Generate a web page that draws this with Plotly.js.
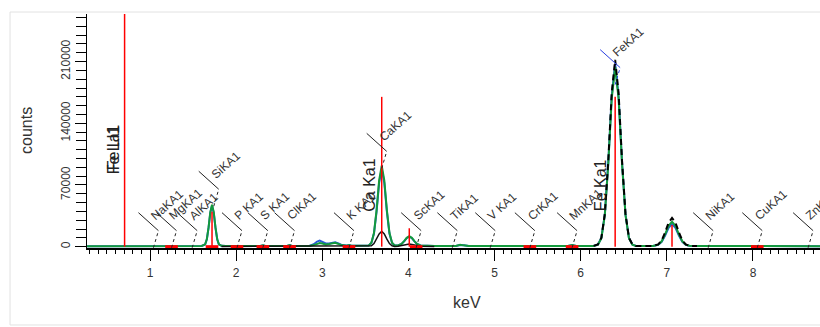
<!DOCTYPE html>
<html><head><meta charset="utf-8">
<script src="https://cdn.plot.ly/plotly-3.0.1.min.js"></script>
<style>html,body{margin:0;padding:0;background:#fff}#chart{width:820px;height:327px}</style>
</head><body><div id="chart"></div>
<script>
// ---- data ----
const energy = [0.27,0.60,0.95,1.04,1.10,1.22,1.25,1.28,1.45,1.52,1.60,1.64,1.66,1.68,1.70,1.72,1.74,1.76,1.78,1.80,
  1.83,1.88,1.98,2.01,2.04,2.28,2.31,2.34,2.59,2.62,2.65,2.85,2.90,2.94,2.97,3.00,3.04,3.08,3.12,3.15,
  3.18,3.22,3.28,3.31,3.34,3.50,3.54,3.57,3.60,3.63,3.66,3.69,3.72,3.75,3.78,3.81,3.84,3.88,3.92,3.95,
  3.98,4.01,4.04,4.07,4.10,4.14,4.30,4.55,4.60,4.64,4.70,5.40,5.85,5.90,5.95,6.15,6.20,6.24,6.28,6.32,
  6.36,6.40,6.44,6.48,6.52,6.56,6.60,6.64,6.70,6.84,6.90,6.94,6.98,7.02,7.06,7.10,7.14,7.18,7.22,7.26,
  7.35,7.60,8.00,8.40,8.80];
const countsGreen = [500,500,500,700,500,600,1000,600,600,600,800,2600,8600,22000,39200,47500,39200,22000,8600,2600,
  1000,800,700,1300,700,700,1500,700,700,1700,700,800,1800,3500,4100,3600,2600,3000,4000,4300,
  3400,1800,1200,1800,1100,900,1400,4400,15400,41200,75200,92000,75200,41200,15400,4400,1400,1300,3100,6300,
  10100,11900,10100,6300,3100,1300,700,700,2200,1500,700,700,800,1800,800,900,2300,9700,35800,93800,
  167800,203800,167800,93800,35800,9700,2300,900,800,800,2300,6100,14000,23700,28300,23700,14000,6100,2300,1000,
  700,600,600,600,600];
const countsBlue = [500,500,500,600,500,600,900,600,600,600,800,2500,8400,21500,38400,46500,38400,21500,8400,2500,
  1000,800,700,1200,700,700,1400,700,700,1600,700,900,2800,5800,6900,5600,3600,3600,4800,5000,
  4000,2200,1300,1700,1100,900,1300,4200,14800,39500,72500,88500,72500,39500,14800,4200,1400,1300,3000,6000,
  9600,11300,9600,6000,3000,1300,700,700,2000,1500,700,700,800,1700,800,900,2400,10000,36500,95500,
  171000,207500,171000,95500,36500,10000,2400,900,800,800,2100,5500,12700,21500,25600,21500,12700,5500,2100,1000,
  700,600,600,600,600];
const countsFit = [null,null,null,null,null,null,null,null,null,null,null,null,null,null,null,null,null,null,null,null,
  null,null,null,null,null,null,null,null,null,null,null,null,null,null,null,null,null,null,null,null,
  null,null,null,null,null,null,null,null,null,null,null,null,null,null,null,null,null,null,null,null,
  null,null,null,null,null,null,null,null,null,null,null,null,null,null,null,900,2500,10200,37200,97500,
  174500,212000,174500,97500,37200,10200,2500,900,800,800,2600,7000,16200,27300,32600,27300,16200,7000,2600,1000,
  700,null,null,null,null];
const countsBlack = [null,null,null,null,null,null,null,null,null,null,null,null,null,null,null,null,null,null,null,null,
  300,300,300,300,300,300,300,300,300,300,300,300,300,300,300,300,300,300,300,300,
  300,300,300,300,300,300,300,1000,3500,8500,14500,17500,14500,8500,3500,1000,300,400,1000,1800,
  2600,3000,2600,1800,1000,400,300,null,null,null,null,null,null,null,null,null,null,null,null,null,
  null,null,null,null,null,null,null,null,null,null,null,null,null,null,null,null,null,null,null,null,
  null,null,null,null,null];
const peakLineE = [0.705, 1.72, 3.69, 4.01, 6.40, 7.06];
const peakLineH = [264000, 39700, 170000, 20900, 170000, 24600];
const baseMarkE = [1.25, 1.72, 2.01, 2.31, 2.62, 3.31, 4.09, 5.41, 5.90, 8.05];
const markerLabels = ['NaKA1','MgKA1','AlKA1','SiKA1','P KA1','S KA1','ClKA1','K KA1','CaKA1','ScKA1','TiKA1','V KA1','CrKA1','MnKA1','FeKA1','NiKA1','CuKA1','ZnKA1'];
const markerE = [1.04,1.25,1.49,1.74,2.01,2.31,2.62,3.31,3.69,4.09,4.51,4.95,5.41,5.90,6.40,7.48,8.05,8.64];
const markerBase = [0,0,0,47000,0,0,0,0,90000,0,0,0,0,0,185000,0,0,0];
const bigLabels = ['Fe La1','Fe Ll1','Ca Ka1','Fe Ka1'];
const bigLabelE = [0.705,0.705,3.69,6.40];
const bigLabelY = [110000,110000,70000,70000];

// ---- build ----
const lineX = [], lineY = [];
peakLineE.forEach((e,i)=>{ lineX.push(e,e,null); lineY.push(0,peakLineH[i],null); });

const traces = [
  {x: energy, y: countsBlue, mode:'lines', line:{color:'#2a5bd7', width:2}},
  {x: energy, y: countsGreen, mode:'lines', line:{color:'#139a3c', width:2}},
  {x: energy, y: countsFit, mode:'lines', line:{color:'#000', width:2, dash:'6px,4px'}},
  {x: energy, y: countsBlack, mode:'lines', line:{color:'#111', width:1.5}},
  {x: lineX, y: lineY, mode:'lines', line:{color:'#ff0000', width:1.5}},
  {x: baseMarkE, y: baseMarkE.map(()=>0), mode:'markers', cliponaxis:false,
   marker:{symbol:'line-ew', size:9, color:'#ff0000', line:{color:'#ff0000', width:3}}}
];

const shapes = [{type:'rect', xref:'paper', yref:'paper', x0:-0.105, x1:1.05, y0:-0.329, y1:1.0085,
  line:{color:'#e2e2e2', width:1}, layer:'below'}];
const annotations = [];
markerE.forEach((e,i)=>{
  const col = markerLabels[i]==='FeKA1' ? '#2a3fe0' : '#222';
  shapes.push({type:'line', xref:'x', yref:'y', xsizemode:'pixel', ysizemode:'pixel', xanchor:e, yanchor:markerBase[i],
    x0:0, y0:-1, x1:5, y1:16, line:{color:col, width:1, dash:'dot'}});
  shapes.push({type:'line', xref:'x', yref:'y', xsizemode:'pixel', ysizemode:'pixel', xanchor:e, yanchor:markerBase[i],
    x0:5, y0:16, x1:-15, y1:34, line:{color:col, width:1}});
  annotations.push({x:e, y:markerBase[i], xref:'x', yref:'y', text:markerLabels[i], showarrow:false,
    textangle:-42, xanchor:'left', yanchor:'bottom', xshift:-8, yshift:21,
    font:{family:'Liberation Sans, Arial, sans-serif', size:12, color:'#333'}});
});
const bigShift = [-11,-11,-12,-14];
const bigYShift = [0,2,0,0];
bigLabels.forEach((t,i)=>{
  annotations.push({x:bigLabelE[i], y:bigLabelY[i], xref:'x', yref:'y', text:t, showarrow:false,
    textangle:-90, xanchor:'center', yanchor:'middle', xshift:bigShift[i], yshift:bigYShift[i],
    font:{family:'Liberation Sans, Arial, sans-serif', size:16, color:'#222'}});
});
annotations.push({xref:'paper', yref:'paper', x:0, y:0.5, xshift:-61, text:'counts', showarrow:false,
  textangle:-90, xanchor:'center', yanchor:'middle', font:{family:'Liberation Sans, Arial, sans-serif', size:16, color:'#333'}});
annotations.push({xref:'paper', yref:'paper', x:0.518, y:0, yshift:-54, text:'keV', showarrow:false,
  xanchor:'center', yanchor:'middle', font:{family:'Liberation Sans, Arial, sans-serif', size:16, color:'#333'}});

const layout = {
  width:820, height:327, margin:{l:87, r:0, t:14, b:79},
  paper_bgcolor:'#fff', plot_bgcolor:'#fff', showlegend:false,
  font:{family:'Liberation Sans, Arial, sans-serif', size:12, color:'#333'},
  xaxis:{range:[0.2686, 8.778], showgrid:false, zeroline:false, showline:true, linecolor:'#000', linewidth:1.5,
    ticks:'outside', ticklen:11, tickwidth:1, tickcolor:'#000', dtick:1, tick0:0, ticklabelstandoff:2,
    minor:{dtick:0.1, ticks:'outside', ticklen:4, tickcolor:'#000', tickwidth:1},
    tickfont:{size:12, color:'#333'}},
  yaxis:{range:[-1500, 264000], showgrid:false, zeroline:false, showline:true, linecolor:'#000', linewidth:1.5,
    ticks:'outside', ticklen:11, tickwidth:1, tickcolor:'#000', dtick:70000, tick0:0, tickangle:-90,
    minor:{dtick:10000, ticks:'outside', ticklen:10, tickcolor:'#000', tickwidth:1},
    tickfont:{size:12, color:'#333'}, tickformat:'d', separatethousands:false},
  shapes:shapes, annotations:annotations
};
Plotly.newPlot('chart', traces, layout, {staticPlot:true, displayModeBar:false});
</script></body></html>
